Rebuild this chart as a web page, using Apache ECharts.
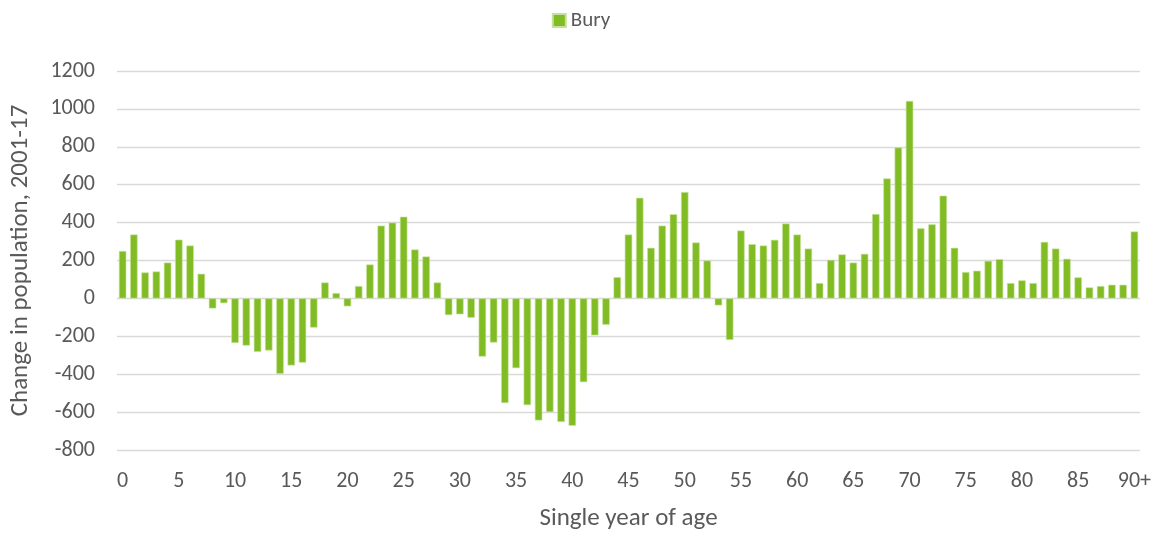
<!DOCTYPE html>
<html lang="en">
<head>
    <meta charset="UTF-8">
    <title>Bury</title>
    <script src="https://cdn.jsdelivr.net/npm/echarts@6/dist/echarts.min.js"></script>
    <style>
        * { margin: 0; padding: 0; }
        html, body { width: 100%; height: 100%; overflow: hidden; background: #fff; }
        .box { width: 1162px; height: 536px; }
    </style>
</head>
<body>
<div class="box"></div>
<script>
    // age labels 0..89 then 90+
    let ages = [];
    for (let i = 0; i < 90; i++) ages.push(String(i));
    ages.push('90+');

    let bury = [
        250, 337, 137, 142, 189, 310, 279, 130, -53, -25,
        -235, -249, -282, -275, -398, -354, -339, -154, 84, 28,
        -42, 65, 179, 384, 400, 431, 258, 221, 84, -88,
        -84, -102, -307, -233, -552, -368, -563, -644, -600, -652,
        -672, -442, -195, -139, 112, 337, 531, 267, 384, 444,
        561, 295, 200, -37, -219, 358, 286, 279, 309, 395,
        337, 263, 81, 203, 232, 189, 235, 445, 633, 796,
        1042, 370, 391, 542, 267, 139, 146, 198, 207, 81,
        95, 81, 298, 263, 209, 111, 58, 65, 72, 72,
        353
    ];

    let font = 'Carlito, Lato, sans-serif';
    let grey = '#595959';

    let chart = echarts.init(document.querySelector('.box'));
    chart.setOption({
        animation: false,
        textStyle: { fontFamily: font },
        legend: {
            top: 5,
            left: 'center',
            icon: 'rect',
            itemWidth: 13,
            itemHeight: 13,
            itemGap: 6,
            textStyle: { fontSize: 21, color: grey, fontFamily: font },
            data: ['Bury']
        },
        grid: { left: 115, right: 22, top: 71, bottom: 85, containLabel: false },
        xAxis: {
            type: 'category',
            data: ages,
            name: 'Single year of age',
            nameLocation: 'middle',
            nameGap: 56,
            nameTextStyle: { fontSize: 25, color: grey, fontFamily: font },
            axisLine: { show: false, onZero: false },
            axisTick: { show: false },
            axisLabel: {
                interval: 4,
                margin: 20,
                fontSize: 22,
                color: grey,
                fontFamily: font
            }
        },
        yAxis: {
            type: 'value',
            min: -800,
            max: 1200,
            interval: 200,
            name: 'Change in population, 2001-17',
            nameLocation: 'middle',
            nameGap: 84,
            nameTextStyle: { fontSize: 25, color: grey, fontFamily: font },
            axisLine: { show: false },
            axisTick: { show: false },
            axisLabel: {
                margin: 22,
                fontSize: 22,
                color: grey,
                fontFamily: font,
                formatter: v => String(v)
            },
            splitLine: { lineStyle: { color: '#d9d9d9', width: 1.3 } }
        },
        series: [{
            name: 'Bury',
            type: 'bar',
            data: bury,
            barCategoryGap: '34%',
            itemStyle: {
                color: '#82bc25',
                borderColor: '#c6e29a',
                borderWidth: 0.6
            }
        }]
    });
</script>
</body>
</html>
